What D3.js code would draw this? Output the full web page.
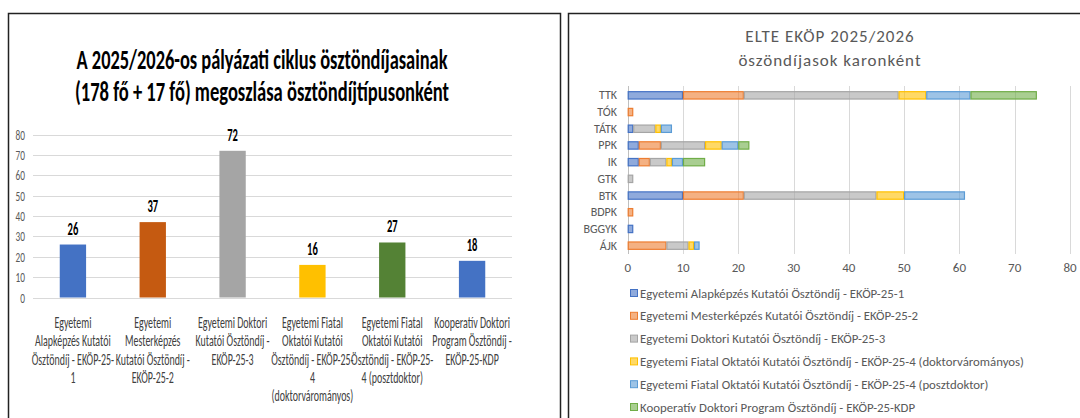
<!DOCTYPE html>
<html>
<head>
<meta charset="utf-8">
<script src="https://cdn.jsdelivr.net/npm/d3@7"></script>
<style>
body { margin: 0; background: #fff; }
svg text { font-family: Carlito, Calibri, "Liberation Sans Narrow", Lato, sans-serif; }
</style>
</head>
<body>
<svg id="chart" width="1080" height="418"></svg>
<script>
// ---- data ----
var type_names = [
    "Egyetemi Alapképzés Kutatói Ösztöndíj - EKÖP-25-1",
    "Egyetemi Mesterképzés Kutatói Ösztöndíj - EKÖP-25-2",
    "Egyetemi Doktori Kutatói Ösztöndíj - EKÖP-25-3",
    "Egyetemi Fiatal Oktatói Kutatói Ösztöndíj - EKÖP-25-4 (doktorvárományos)",
    "Egyetemi Fiatal Oktatói Kutatói Ösztöndíj - EKÖP-25-4 (posztdoktor)",
    "Kooperatív Doktori Program Ösztöndíj - EKÖP-25-KDP"
];
// wrapped labels as they appear under the columns
var type_lines = [
    ["Egyetemi", "Alapképzés Kutatói", "Ösztöndíj - EKÖP-25-", "1"],
    ["Egyetemi", "Mesterképzés", "Kutatói Ösztöndíj -", "EKÖP-25-2"],
    ["Egyetemi Doktori", "Kutatói Ösztöndíj -", "EKÖP-25-3"],
    ["Egyetemi Fiatal", "Oktatói Kutatói", "Ösztöndíj - EKÖP-25-", "4", "(doktorvárományos)"],
    ["Egyetemi Fiatal", "Oktatói Kutatói", "Ösztöndíj - EKÖP-25-", "4 (posztdoktor)"],
    ["Kooperatív Doktori", "Program Ösztöndíj -", "EKÖP-25-KDP"]
];
var type_totals = [26, 37, 72, 16, 27, 18];
var left_colors = ["#4472c4", "#c55a11", "#a5a5a5", "#ffc000", "#548235", "#4472c4"];
var left_ticks = [0, 10, 20, 30, 40, 50, 60, 70, 80];

var faculties = ["TTK", "TÓK", "TÁTK", "PPK", "IK", "GTK", "BTK", "BDPK", "BGGYK", "ÁJK"];
var alap      = [10, 0, 1, 2, 2, 0, 10, 0, 1, 0];
var mester    = [11, 1, 0, 4, 2, 0, 11, 1, 0, 7];
var doktori   = [28, 0, 4, 8, 3, 1, 24, 0, 0, 4];
var fiatal_dv = [ 5, 0, 1, 3, 1, 0,  5, 0, 0, 1];
var fiatal_pd = [ 8, 0, 2, 3, 2, 0, 11, 0, 0, 1];
var kdp       = [12, 0, 0, 2, 4, 0,  0, 0, 0, 0];
var right_colors = ["#4472c4", "#ed7d31", "#a5a5a5", "#ffc000", "#5b9bd5", "#70ad47"];
var right_ticks = [0, 10, 20, 30, 40, 50, 60, 70, 80];

var svg = d3.select("#chart");
var SQ = 0.62; // horizontal squeeze of the left (stretched) picture

// panel frames
svg.append("rect").attr("x", 8.5).attr("y", 13.5).attr("width", 552).attr("height", 420)
    .attr("fill", "none").attr("stroke", "#222").attr("stroke-width", 1.5);
svg.append("rect").attr("x", 568.5).attr("y", 13.5).attr("width", 520).attr("height", 420)
    .attr("fill", "none").attr("stroke", "#222").attr("stroke-width", 1.5);

// ================= left chart =================
var L = svg.append("g");

var title_lines = ["A 2025/2026-os pályázati ciklus ösztöndíjasainak",
                   "(178 fő + 17 fő) megoszlása ösztöndíjtípusonként"];
L.selectAll(".ltitle").data(title_lines).enter().append("text")
    .attr("x", 262).attr("y", function(d, i){ return 69 + i * 32; })
    .attr("text-anchor", "middle")
    .attr("font-size", 28).attr("font-weight", "bold").attr("fill", "#000")
    .attr("textLength", function(d, i){ return i == 0 ? 371 : 374; })
    .attr("lengthAdjust", "spacingAndGlyphs")
    .text(function(d){ return d; });

var lx = d3.scaleBand().domain(d3.range(type_totals.length))
    .range([33, 512]).paddingInner(0.67).paddingOuter(0.335);
var ly = d3.scaleLinear().domain([0, 80]).range([297.5, 134.5]);

L.selectAll(".lgrid").data(left_ticks).enter().append("line")
    .attr("x1", 33).attr("x2", 512)
    .attr("y1", function(d){ return Math.round(ly(d)) + 0.5; })
    .attr("y2", function(d){ return Math.round(ly(d)) + 0.5; })
    .attr("stroke", "#d9d9d9").attr("stroke-width", 1);

L.selectAll(".lytick").data(left_ticks).enter().append("text")
    .attr("transform", function(d){ return "translate(25," + (ly(d) + 5) + ") scale(" + SQ + ",1)"; })
    .attr("text-anchor", "end").attr("font-size", 15).attr("fill", "#595959")
    .text(function(d){ return d; });

L.selectAll(".lbar").data(type_totals).enter().append("rect")
    .attr("x", function(d, i){ return lx(i); })
    .attr("width", lx.bandwidth())
    .attr("y", function(d){ return ly(d); })
    .attr("height", function(d){ return ly(0) - ly(d); })
    .attr("fill", function(d, i){ return left_colors[i]; });

L.selectAll(".lval").data(type_totals).enter().append("text")
    .attr("transform", function(d, i){
        return "translate(" + (lx(i) + lx.bandwidth() / 2) + "," + (ly(d) - 10) + ") scale(" + SQ + ",1)";
    })
    .attr("text-anchor", "middle").attr("font-size", 17).attr("font-weight", "bold").attr("fill", "#000")
    .text(function(d){ return d; });

var cat = L.selectAll(".lcat").data(type_lines).enter().append("text")
    .attr("transform", function(d, i){
        return "translate(" + (lx(i) + lx.bandwidth() / 2) + ",328) scale(" + SQ + ",1)";
    })
    .attr("text-anchor", "middle").attr("font-size", 16).attr("fill", "#404040");
cat.selectAll("tspan").data(function(d){ return d; }).enter().append("tspan")
    .attr("x", 0).attr("dy", function(d, i){ return i == 0 ? 0 : 18.3; })
    .text(function(d){ return d; });

// ================= right chart =================
var R = svg.append("g");

R.selectAll(".rtitle").data(["ELTE EKÖP 2025/2026", "öszöndíjasok karonként"]).enter().append("text")
    .attr("x", 830).attr("y", function(d, i){ return 42 + i * 24; })
    .attr("text-anchor", "middle").attr("font-size", 17).attr("fill", "#595959")
    .attr("letter-spacing", 1)
    .text(function(d){ return d; });

var series = [alap, mester, doktori, fiatal_dv, fiatal_pd, kdp];
var rows = faculties.map(function(f, i){
    var o = {faculty: f};
    series.forEach(function(s, k){ o[k] = s[i]; });
    return o;
});
var stack = d3.stack().keys(d3.range(series.length))(rows);

var rx = d3.scaleLinear().domain([0, 80]).range([627.7, 1070]);
var ry = d3.scaleBand().domain(faculties).range([87, 254]).paddingInner(0.5).paddingOuter(0.25);

R.selectAll(".rgrid").data(right_ticks).enter().append("line")
    .attr("x1", function(d){ return Math.round(rx(d)) + 0.5; })
    .attr("x2", function(d){ return Math.round(rx(d)) + 0.5; })
    .attr("y1", 86).attr("y2", 254)
    .attr("stroke", function(d){ return d == 0 ? "#bfbfbf" : "#d9d9d9"; }).attr("stroke-width", 1);

R.selectAll(".rxtick").data(right_ticks).enter().append("text")
    .attr("x", function(d){ return rx(d); }).attr("y", 271.5)
    .attr("text-anchor", "middle").attr("font-size", 13).attr("fill", "#595959")
    .text(function(d){ return d; });

R.selectAll(".rytick").data(faculties).enter().append("text")
    .attr("x", 617).attr("y", function(d){ return ry(d) + ry.bandwidth() / 2 + 4; })
    .attr("text-anchor", "end").attr("font-size", 12).attr("fill", "#595959")
    .text(function(d){ return d; });

var layer = R.selectAll(".layer").data(stack).enter().append("g");
layer.selectAll("rect").data(function(d){ return d.filter(function(p){ return p[1] > p[0]; }); })
    .enter().append("rect")
    .attr("x", function(d){ return rx(d[0]) + 0.5; })
    .attr("width", function(d){ return rx(d[1]) - rx(d[0]) - 1; })
    .attr("y", function(d){ return ry(d.data.faculty) + 0.5; })
    .attr("height", ry.bandwidth() - 1)
    .attr("fill", function(){ return right_colors[d3.select(this.parentNode).datum().key]; })
    .attr("fill-opacity", 0.6)
    .attr("stroke", function(){ return right_colors[d3.select(this.parentNode).datum().key]; })
    .attr("stroke-width", 1.2);

var leg = R.selectAll(".legend").data(type_names).enter().append("g")
    .attr("transform", function(d, i){ return "translate(630," + (293 + i * 22.8) + ")"; });
leg.append("rect").attr("x", 0.5).attr("y", -3.5).attr("width", 7).attr("height", 7)
    .attr("fill", function(d, i){ return right_colors[i]; }).attr("fill-opacity", 0.6)
    .attr("stroke", function(d, i){ return right_colors[i]; });
leg.append("text").attr("x", 10).attr("y", 4.5)
    .attr("font-size", 12.8).attr("fill", "#595959")
    .text(function(d){ return d; });
</script>
</body>
</html>
